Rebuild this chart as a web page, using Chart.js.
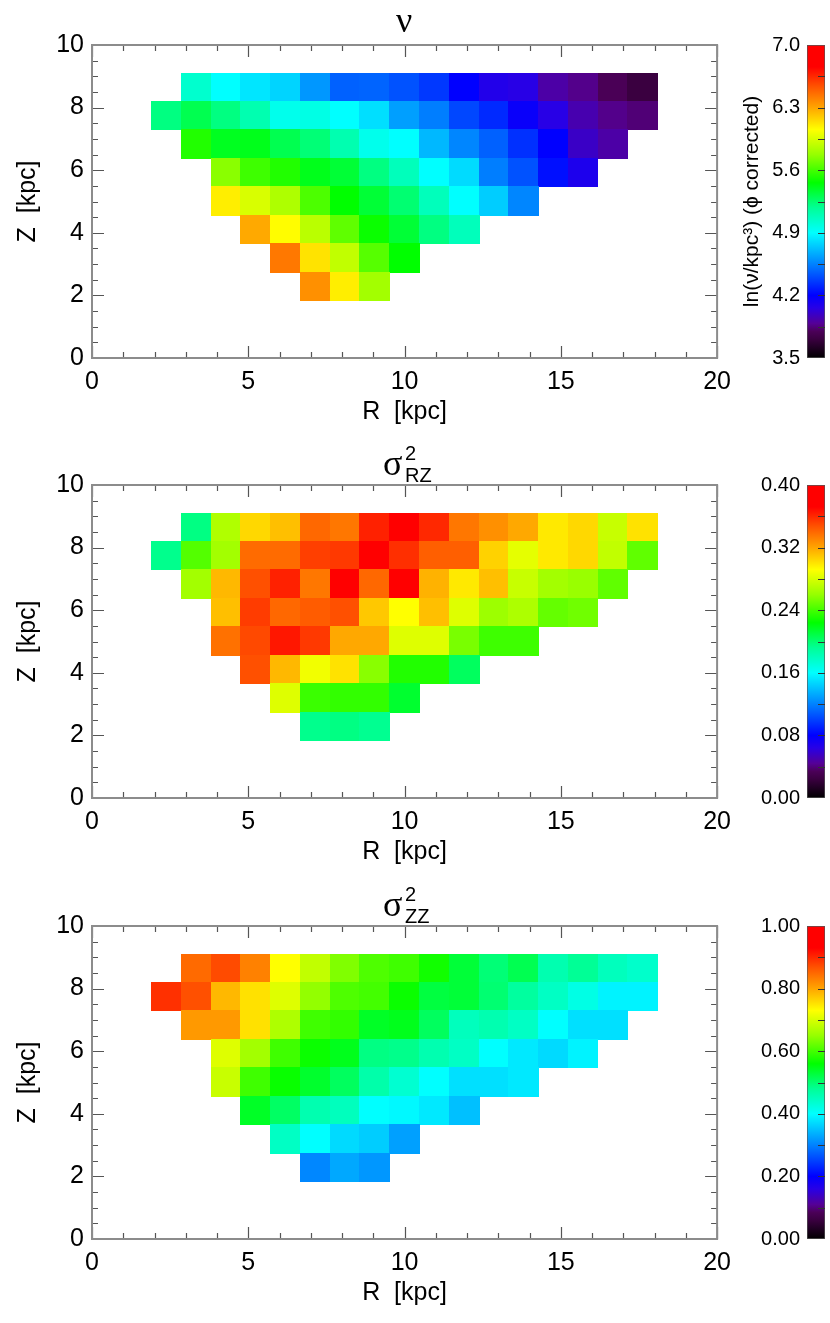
<!DOCTYPE html>
<html>
<head>
<meta charset="utf-8">
<script src="https://cdn.jsdelivr.net/npm/chart.js@4.4.1/dist/chart.umd.min.js"></script>
<style>
  html, body { margin: 0; padding: 0; background: #fff; }
  body { width: 830px; height: 1323px; position: relative; overflow: hidden; }
  canvas { position: absolute; }
  .ttl { position: absolute; font-family: 'Liberation Serif', 'DejaVu Serif', serif; font-size: 36px; line-height: 36px; color: #000; }
  .idx { position: absolute; font-family: 'Liberation Sans', Arial, sans-serif; font-size: 20px; line-height: 20px; color: #000; }
</style>
</head>
<body>
<canvas id="map0" width="740" height="440" style="left:0;top:0"></canvas>
<canvas id="bar0" width="95" height="440" style="left:735px;top:0"></canvas>
<canvas id="map1" width="740" height="440" style="left:0;top:440px"></canvas>
<canvas id="bar1" width="95" height="440" style="left:735px;top:440px"></canvas>
<canvas id="map2" width="740" height="440" style="left:0;top:881px"></canvas>
<canvas id="bar2" width="95" height="440" style="left:735px;top:881px"></canvas>

<div class="ttl" style="left:396px;top:2px">ν</div>
<div class="ttl" style="left:383px;top:445px">σ</div>
<div class="idx" style="left:405px;top:443px">2</div>
<div class="idx" style="left:405px;top:465px">RZ</div>
<div class="ttl" style="left:383px;top:886px">σ</div>
<div class="idx" style="left:405px;top:884px">2</div>
<div class="idx" style="left:405px;top:906px">ZZ</div>

<script>
// bin centres (kpc)
const R_BINS = [2.39, 3.34, 4.29, 5.24, 6.19, 7.15, 8.10, 9.05, 10.00, 10.95, 11.91, 12.86, 13.81, 14.76, 15.71, 16.67, 17.62];
const Z_BINS = [8.65, 7.74, 6.83, 5.92, 5.01, 4.10, 3.19, 2.28];
// index of the first filled R bin in each Z row
const ROW_FIRST = [1, 0, 1, 2, 2, 3, 4, 5];

// ln(nu / kpc^3), phi corrected
const NU_ROWS = [
  [5.03, 4.90, 4.83, 4.78, 4.61, 4.46, 4.47, 4.42, 4.35, 4.20, 4.08, 4.06, 3.92, 3.87, 3.79, 3.71],
  [5.22, 5.31, 5.22, 5.11, 4.95, 4.97, 4.90, 4.81, 4.63, 4.54, 4.39, 4.31, 4.17, 4.06, 3.94, 3.87, 3.84],
  [5.53, 5.40, 5.41, 5.31, 5.24, 5.11, 4.95, 4.90, 4.70, 4.56, 4.46, 4.33, 4.20, 3.99, 3.92],
  [5.75, 5.59, 5.53, 5.41, 5.36, 5.22, 5.08, 4.90, 4.80, 4.54, 4.42, 4.24, 4.10],
  [6.10, 5.95, 5.84, 5.62, 5.46, 5.36, 5.25, 5.08, 4.90, 4.76, 4.56],
  [6.29, 6.06, 5.87, 5.66, 5.48, 5.36, 5.22, 5.08],
  [6.43, 6.13, 5.89, 5.64, 5.46],
  [6.36, 6.10, 5.81],
];

const SIG_RZ_ROWS = [
  [0.196, 0.268, 0.304, 0.312, 0.340, 0.335, 0.362, 0.380, 0.360, 0.335, 0.327, 0.319, 0.299, 0.304, 0.275, 0.301],
  [0.194, 0.244, 0.264, 0.339, 0.339, 0.353, 0.355, 0.376, 0.358, 0.343, 0.343, 0.306, 0.284, 0.299, 0.304, 0.273, 0.247],
  [0.264, 0.314, 0.348, 0.362, 0.335, 0.376, 0.340, 0.376, 0.316, 0.299, 0.312, 0.275, 0.264, 0.261, 0.247],
  [0.312, 0.354, 0.340, 0.344, 0.348, 0.309, 0.292, 0.312, 0.282, 0.262, 0.267, 0.248, 0.251],
  [0.337, 0.350, 0.365, 0.355, 0.319, 0.319, 0.282, 0.282, 0.253, 0.239, 0.239],
  [0.348, 0.314, 0.288, 0.301, 0.257, 0.232, 0.232, 0.204],
  [0.282, 0.238, 0.236, 0.236, 0.214],
  [0.194, 0.196, 0.193],
];

const SIG_ZZ_ROWS = [
  [0.849, 0.874, 0.830, 0.730, 0.683, 0.637, 0.607, 0.598, 0.570, 0.530, 0.497, 0.517, 0.460, 0.480, 0.450, 0.440],
  [0.894, 0.870, 0.785, 0.753, 0.705, 0.648, 0.607, 0.600, 0.566, 0.526, 0.530, 0.500, 0.473, 0.445, 0.420, 0.390, 0.390],
  [0.810, 0.810, 0.753, 0.668, 0.598, 0.590, 0.540, 0.545, 0.510, 0.450, 0.460, 0.445, 0.400, 0.375, 0.375],
  [0.705, 0.660, 0.598, 0.566, 0.545, 0.490, 0.486, 0.460, 0.445, 0.400, 0.382, 0.370, 0.390],
  [0.688, 0.598, 0.565, 0.536, 0.510, 0.465, 0.435, 0.400, 0.375, 0.375, 0.382],
  [0.540, 0.507, 0.460, 0.450, 0.400, 0.395, 0.382, 0.350],
  [0.445, 0.400, 0.370, 0.360, 0.324],
  [0.304, 0.330, 0.317],
];

// colour bar ranges and labels
const NU_RANGE = [3.5, 7.0];
const NU_TICKS = [3.5, 4.2, 4.9, 5.6, 6.3, 7.0];
const RZ_RANGE = [0, 0.4];
const RZ_TICKS = [0.00, 0.08, 0.16, 0.24, 0.32, 0.40];
const ZZ_RANGE = [0, 1];
const ZZ_TICKS = [0.00, 0.20, 0.40, 0.60, 0.80, 1.00];

// cell size in kpc
const BIN_DR = 0.952;
const BIN_DZ = 0.909;

// IDL-like rainbow
const CMAP_POS = [0, 0.06, 0.085, 0.11, 0.16, 0.2, 0.3, 0.4, 0.48, 0.56, 0.65, 0.73, 0.8, 0.87, 0.93, 1];
const CMAP_RGB = [
  [0, 0, 0], [58, 0, 64], [75, 0, 88], [85, 0, 150], [40, 0, 230], [0, 0, 255], [0, 130, 255],
  [0, 255, 255], [0, 255, 150], [0, 255, 0], [150, 255, 0], [255, 255, 0], [255, 165, 0],
  [255, 80, 0], [255, 0, 0], [255, 0, 0],
];

Chart.defaults.font.family = "'Liberation Sans', Arial, sans-serif";
Chart.defaults.color = "#000";

function rainbow(t) {
  t = Math.min(1, Math.max(0, t));
  let i = 1;
  while (i < CMAP_POS.length - 1 && t > CMAP_POS[i]) i++;
  const f = (t - CMAP_POS[i - 1]) / (CMAP_POS[i] - CMAP_POS[i - 1]);
  const a = CMAP_RGB[i - 1], b = CMAP_RGB[i];
  const c = a.map((v, k) => Math.round(v + (b[k] - v) * f));
  return `rgb(${c[0]},${c[1]},${c[2]})`;
}

function cellsFrom(rows) {
  const pts = [];
  rows.forEach((row, j) => {
    row.forEach((v, n) => pts.push({ x: R_BINS[ROW_FIRST[j] + n], y: Z_BINS[j], v }));
  });
  return pts;
}

const cellPlugin = {
  id: "cells",
  beforeDatasetsDraw(chart) {
    const { ctx, scales: { x, y } } = chart;
    const ds = chart.data.datasets[0];
    const [lo, hi] = ds.range;
    ctx.save();
    for (const p of ds.data) {
      const x0 = Math.floor(x.getPixelForValue(p.x - BIN_DR / 2));
      const x1 = Math.ceil(x.getPixelForValue(p.x + BIN_DR / 2));
      const y0 = Math.floor(y.getPixelForValue(p.y + BIN_DZ / 2));
      const y1 = Math.ceil(y.getPixelForValue(p.y - BIN_DZ / 2));
      ctx.fillStyle = rainbow((p.v - lo) / (hi - lo));
      ctx.fillRect(x0, y0, x1 - x0, y1 - y0);
    }
    ctx.restore();
  },
};

// box with inward ticks on all four sides
const framePlugin = {
  id: "frame",
  afterDraw(chart) {
    const { ctx, chartArea: a, scales: { x, y } } = chart;
    ctx.save();
    ctx.strokeStyle = "#555";
    ctx.lineWidth = 1.2;
    ctx.beginPath();
    for (let v = 0; v <= 20; v++) {
      const px = Math.round(x.getPixelForValue(v)) + 0.5;
      const len = v % 5 === 0 ? 12 : 6;
      ctx.moveTo(px, a.bottom); ctx.lineTo(px, a.bottom - len);
      ctx.moveTo(px, a.top); ctx.lineTo(px, a.top + len);
    }
    for (let k = 0; k <= 20; k++) {
      const py = Math.round(y.getPixelForValue(k / 2)) + 0.5;
      const len = k % 4 === 0 ? 12 : 6;
      ctx.moveTo(a.left, py); ctx.lineTo(a.left + len, py);
      ctx.moveTo(a.right, py); ctx.lineTo(a.right - len, py);
    }
    ctx.stroke();
    ctx.strokeStyle = "#8c8c8c";
    ctx.lineWidth = 2;
    ctx.strokeRect(a.left, a.top, a.right - a.left, a.bottom - a.top);
    ctx.restore();
  },
};

const barTickPlugin = {
  id: "barTicks",
  afterDraw(chart) {
    const { ctx, chartArea: a, scales: { y } } = chart;
    ctx.save();
    ctx.strokeStyle = "#333";
    ctx.lineWidth = 1;
    ctx.beginPath();
    for (let k = 1; k < 10; k++) {
      const py = Math.round(y.getPixelForValue(y.min + (y.max - y.min) * k / 10)) + 0.5;
      ctx.moveTo(a.right, py); ctx.lineTo(a.right - 7, py);
    }
    ctx.stroke();
    ctx.restore();
  },
};

function makeMap(id, rows, range) {
  return new Chart(document.getElementById(id), {
    type: "scatter",
    data: { datasets: [{ data: cellsFrom(rows), range, pointRadius: 0, pointHoverRadius: 0 }] },
    options: {
      responsive: false,
      animation: false,
      events: [],
      layout: { padding: { top: 45, right: 22, bottom: 0, left: 0 }, autoPadding: false },
      plugins: { legend: { display: false }, tooltip: { enabled: false } },
      scales: {
        x: {
          type: "linear", min: 0, max: 20,
          grid: { display: false, drawTicks: false }, border: { display: false },
          ticks: { stepSize: 5, padding: 9, maxRotation: 0, autoSkip: false, font: { size: 25 } },
          title: { display: true, text: "R  [kpc]", font: { size: 25 }, padding: { top: 0, bottom: 13 } },
          afterFit: s => { s.height = 82; },
        },
        y: {
          type: "linear", min: 0, max: 10,
          grid: { display: false, drawTicks: false }, border: { display: false },
          ticks: { stepSize: 2, padding: 8, autoSkip: false, font: { size: 25 } },
          title: { display: true, text: "Z  [kpc]", font: { size: 25 }, padding: { top: 13, bottom: 0 } },
          afterFit: s => { s.width = 92; },
        },
      },
    },
    plugins: [cellPlugin, framePlugin],
  });
}

function makeBar(id, range, ticks, digits, label) {
  const [lo, hi] = range;
  return new Chart(document.getElementById(id), {
    type: "bar",
    data: {
      labels: [""],
      datasets: [{
        data: [[lo, hi]],
        barPercentage: 1,
        categoryPercentage: 1,
        borderColor: "#555",
        borderWidth: 1,
        borderSkipped: false,
        backgroundColor: ctx => {
          const chart = ctx.chart;
          if (!chart.chartArea) return null;
          const y = chart.scales.y;
          const g = chart.ctx.createLinearGradient(0, y.getPixelForValue(lo), 0, y.getPixelForValue(hi));
          CMAP_POS.forEach((p, i) => g.addColorStop(p, `rgb(${CMAP_RGB[i].join(",")})`));
          return g;
        },
      }],
    },
    options: {
      responsive: false,
      animation: false,
      events: [],
      layout: { padding: { top: 45, right: 5, bottom: 82, left: 0 }, autoPadding: false },
      plugins: { legend: { display: false }, tooltip: { enabled: false } },
      scales: {
        x: { display: false },
        y: {
          min: lo, max: hi,
          grid: { display: false, drawTicks: false }, border: { display: false },
          ticks: { padding: 7, font: { size: 20 }, callback: v => Number(v).toFixed(digits) },
          afterBuildTicks: s => { s.ticks = ticks.map(v => ({ value: v })); },
          title: { display: !!label, text: label || "", font: { size: 21 }, padding: { top: 5, bottom: 0 } },
          afterFit: s => { s.width = 72; },
        },
      },
    },
    plugins: [barTickPlugin],
  });
}

makeMap("map0", NU_ROWS, NU_RANGE);
makeBar("bar0", NU_RANGE, NU_TICKS, 1, "ln(ν/kpc³) (ϕ corrected)");
makeMap("map1", SIG_RZ_ROWS, RZ_RANGE);
makeBar("bar1", RZ_RANGE, RZ_TICKS, 2);
makeMap("map2", SIG_ZZ_ROWS, ZZ_RANGE);
makeBar("bar2", ZZ_RANGE, ZZ_TICKS, 2);
</script>
</body>
</html>
